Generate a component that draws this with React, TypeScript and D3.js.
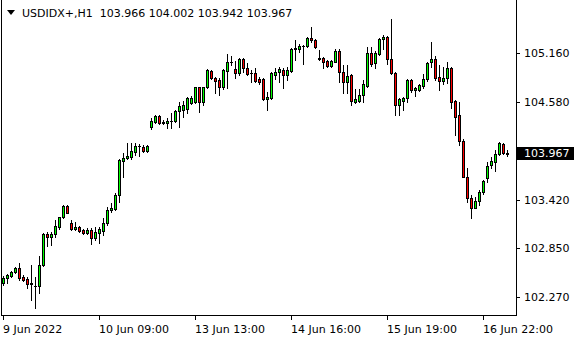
import React from "react";
import * as d3 from "d3";

const symbol = "USDIDX+";
const timeframe = "H1";

const opens = [
  102.427, 102.487, 102.520, 102.558, 102.605, 102.506, 102.475, 102.419, 102.398, 102.396,
  102.644, 103.012, 102.972, 103.012, 103.091, 103.209, 103.343, 103.146, 103.067, 103.098,
  103.059, 103.020, 103.059, 102.961, 103.027, 103.051, 103.138, 103.296, 103.304, 103.474,
  103.880, 103.909, 103.927, 103.987, 104.054, 104.039, 103.999, 104.283, 104.342, 104.410,
  104.330, 104.323, 104.354, 104.354, 104.465, 104.481, 104.489, 104.567, 104.572, 104.750,
  104.579, 104.750, 104.946, 104.856, 104.836, 104.750, 104.946, 105.053, 104.963, 104.916,
  105.081, 104.975, 104.915, 104.916, 104.848, 104.848, 104.611, 104.626, 104.895, 104.927,
  104.955, 104.895, 104.943, 105.203, 105.203, 105.243, 105.243, 105.337, 105.310, 105.090,
  105.100, 105.061, 105.006, 105.053, 105.180, 104.931, 104.816, 104.895, 104.579, 104.591,
  104.658, 104.765, 105.160, 105.041, 105.144, 105.318, 105.349, 105.081, 104.923, 104.540,
  104.591, 104.619, 104.836, 104.718, 104.718, 104.765, 104.845, 105.046, 105.085, 104.875,
  104.828, 104.856, 104.975, 104.587, 104.421, 104.113, 103.690, 103.442, 103.323, 103.403,
  103.506, 103.672, 103.829, 103.868, 103.956, 104.074, 103.966,
];
const highs = [
  102.514, 102.534, 102.579, 102.624, 102.664, 102.526, 102.506, 102.644, 102.506, 102.751,
  103.023, 103.039, 103.035, 103.177, 103.217, 103.355, 103.359, 103.177, 103.157, 103.106,
  103.067, 103.079, 103.079, 103.091, 103.098, 103.198, 103.328, 103.375, 103.494, 103.897,
  103.975, 104.093, 104.093, 104.086, 104.078, 104.066, 104.066, 104.382, 104.421, 104.421,
  104.362, 104.386, 104.445, 104.481, 104.579, 104.591, 104.631, 104.647, 104.757, 104.757,
  104.757, 104.963, 104.955, 104.868, 104.856, 104.963, 105.144, 105.121, 105.065, 105.093,
  105.093, 105.034, 104.961, 104.982, 104.875, 104.856, 104.698, 104.935, 104.975, 104.994,
  104.975, 104.994, 105.219, 105.310, 105.259, 105.251, 105.349, 105.468, 105.322, 105.192,
  105.112, 105.073, 105.073, 105.203, 105.203, 105.014, 105.014, 104.907, 104.726, 104.726,
  104.836, 105.231, 105.231, 105.183, 105.330, 105.369, 105.358, 105.555, 104.935, 104.619,
  104.631, 104.845, 104.845, 104.750, 104.789, 104.907, 105.053, 105.290, 105.124, 105.014,
  104.994, 105.053, 104.994, 104.599, 104.579, 104.137, 103.797, 103.474, 103.454, 103.533,
  103.651, 103.868, 103.927, 104.007, 104.105, 104.086, 104.002,
];
const lows = [
  102.413, 102.427, 102.499, 102.546, 102.467, 102.455, 102.368, 102.230, 102.131, 102.316,
  102.638, 102.869, 102.881, 102.980, 103.067, 103.198, 103.257, 103.059, 103.059, 103.039,
  103.012, 103.008, 102.893, 102.941, 102.909, 103.000, 103.118, 103.276, 103.296, 103.394,
  103.683, 103.897, 103.897, 103.948, 103.936, 103.983, 103.983, 104.252, 104.330, 104.315,
  104.315, 104.268, 104.268, 104.342, 104.285, 104.394, 104.449, 104.552, 104.567, 104.461,
  104.540, 104.738, 104.845, 104.679, 104.658, 104.726, 104.738, 105.014, 104.856, 104.895,
  104.935, 104.895, 104.816, 104.809, 104.785, 104.599, 104.481, 104.611, 104.848, 104.816,
  104.738, 104.836, 104.927, 105.073, 105.164, 105.022, 105.231, 105.290, 105.219, 105.073,
  104.975, 104.994, 104.994, 105.044, 104.816, 104.686, 104.679, 104.540, 104.567, 104.579,
  104.579, 104.750, 105.002, 104.975, 105.132, 105.200, 105.026, 104.907, 104.421, 104.421,
  104.481, 104.579, 104.698, 104.647, 104.709, 104.741, 104.824, 104.994, 104.836, 104.718,
  104.785, 104.797, 104.508, 104.185, 104.066, 103.685, 103.394, 103.198, 103.316, 103.355,
  103.482, 103.624, 103.797, 103.758, 103.948, 103.956, 103.942,
];
const closes = [
  102.494, 102.526, 102.565, 102.609, 102.496, 102.467, 102.419, 102.431, 102.394, 102.644,
  103.012, 102.972, 103.012, 103.106, 103.209, 103.343, 103.264, 103.067, 103.091, 103.051,
  103.020, 103.059, 102.961, 103.032, 103.067, 103.138, 103.296, 103.323, 103.474, 103.888,
  103.909, 103.936, 103.999, 104.054, 104.050, 103.999, 104.054, 104.354, 104.410, 104.330,
  104.342, 104.354, 104.350, 104.465, 104.525, 104.540, 104.619, 104.619, 104.750, 104.579,
  104.750, 104.955, 104.856, 104.828, 104.750, 104.955, 105.053, 105.050, 104.916, 105.081,
  104.975, 104.907, 104.919, 104.824, 104.816, 104.611, 104.638, 104.916, 104.935, 104.967,
  104.895, 104.955, 105.203, 105.219, 105.243, 105.240, 105.337, 105.310, 105.231, 105.093,
  105.046, 105.006, 105.061, 105.180, 104.927, 104.816, 104.884, 104.591, 104.607, 104.658,
  104.789, 105.160, 105.026, 105.160, 105.318, 105.349, 105.081, 104.916, 104.540, 104.607,
  104.619, 104.836, 104.718, 104.738, 104.777, 104.845, 105.038, 105.085, 104.856, 104.828,
  104.863, 104.975, 104.579, 104.401, 104.113, 103.690, 103.442, 103.323, 103.403, 103.506,
  103.640, 103.821, 103.877, 103.956, 104.086, 103.968, 103.967,
];

const priceTicks = [105.16, 104.58, 103.42, 102.85, 102.27];
const timeLabels = ["9 Jun 2022", "10 Jun 09:00", "13 Jun 13:00", "14 Jun 16:00", "15 Jun 19:00", "16 Jun 22:00"];
const timeLabelBars = [0, 24, 48, 72, 96, 120];

const W = 580;
const H = 340;
const FONT = "'DejaVu Sans', sans-serif";

export default function App() {
  const N = opens.length;
  const x = d3.scaleLinear().domain([0, N - 1]).range([3.5, 3.5 + 4 * (N - 1)]);
  const y = d3.scaleLinear().domain([102.27, 105.16]).range([296.7, 52.7]);
  const plotRight = 516.5;
  const plotBottom = 315.5;
  const last = N - 1;
  const lastY = Math.round(y(closes[last]));
  const header = `${symbol},${timeframe}  ${opens[last].toFixed(3)} ${highs[last].toFixed(3)} ${lows[last].toFixed(3)} ${closes[last].toFixed(3)}`;

  const candles = d3.range(N).map((i) => {
    const cx = x(i);
    const o = opens[i], c = closes[i];
    const bull = c >= o;
    const top = Math.round(y(Math.max(o, c)));
    const bot = Math.round(y(Math.min(o, c)));
    const hy = Math.round(y(highs[i]));
    const ly = Math.round(y(lows[i]));
    return (
      <g key={i}>
        <line x1={cx} x2={cx} y1={hy} y2={ly + 1} stroke="#000" strokeWidth={1} />
        {bot - top < 1 ? (
          <line x1={cx - 1.5} x2={cx + 1.5} y1={top + 0.5} y2={top + 0.5} stroke="#000" strokeWidth={1} />
        ) : (
          <rect x={cx - 1} y={top + 0.5} width={2} height={bot - top} fill={bull ? "#00ff00" : "#ff0000"} stroke="#000" strokeWidth={1} />
        )}
      </g>
    );
  });

  return (
    <svg width={W} height={H} style={{ position: "absolute", left: 0, top: 0, background: "#fff" }} fontFamily={FONT}>
      <rect x={0} y={0} width={W} height={H} fill="#fff" />
      {candles}
      {/* frame */}
      <line x1={1.5} x2={1.5} y1={0} y2={plotBottom} stroke="#000" />
      <line x1={plotRight} x2={plotRight} y1={0} y2={plotBottom + 0.5} stroke="#000" />
      <line x1={1} x2={plotRight + 0.5} y1={plotBottom} y2={plotBottom} stroke="#000" />
      {/* price axis */}
      {priceTicks.map((p) => {
        const ty = Math.round(y(p)) + 0.5;
        return (
          <g key={p}>
            <line x1={plotRight} x2={520} y1={ty} y2={ty} stroke="#000" />
            <text x={524} y={ty} dy="0.36em" fontSize={11} fill="#000">{p.toFixed(3)}</text>
          </g>
        );
      })}
      <rect x={517} y={lastY - 6} width={57} height={13} fill="#000" />
      <text x={524} y={lastY + 0.5} dy="0.36em" fontSize={11} fill="#fff">{closes[last].toFixed(3)}</text>
      {/* time axis */}
      {timeLabelBars.map((b, k) => {
        const tx = x(b);
        return (
          <g key={b}>
            <line x1={tx} x2={tx} y1={plotBottom} y2={320} stroke="#000" />
            <text x={tx - 0.5} y={333} fontSize={11} fill="#000">{timeLabels[k]}</text>
          </g>
        );
      })}
      {/* header */}
      <path d="M7,10 L15,10 L11,15 Z" fill="#000" />
      <text x={22} y={17} fontSize={11} fill="#000" style={{ whiteSpace: "pre" }}>{header}</text>
    </svg>
  );
}
